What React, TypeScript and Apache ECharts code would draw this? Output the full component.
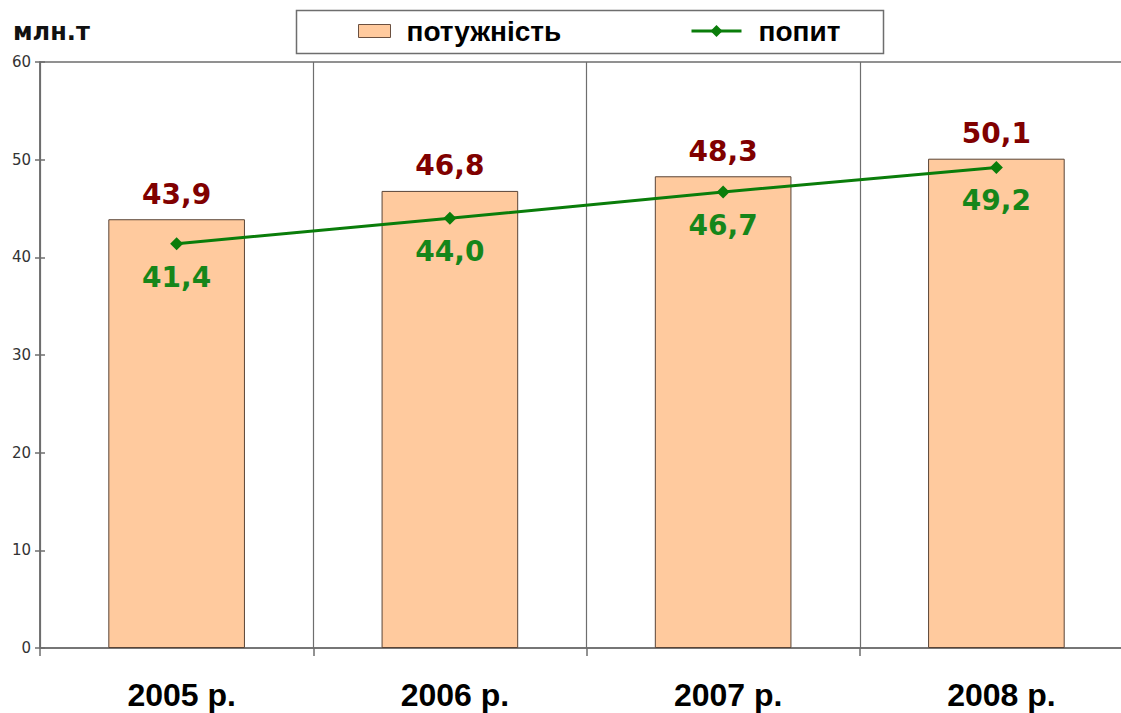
import React, { useEffect, useRef } from "react";
import * as echarts from "echarts";

const categories = ["2005 р.", "2006 р.", "2007 р.", "2008 р."];
const capacity = [43.9, 46.8, 48.3, 50.1];
const demand = [41.4, 44.0, 46.7, 49.2];
const yTicks = [0, 10, 20, 30, 40, 50, 60];

const fmt = (v: number) => v.toFixed(1).replace(".", ",");

export default function App() {
  const ref = useRef<HTMLDivElement>(null);
  useEffect(() => {
    document.body.style.margin = "0";
    const chart = echarts.init(ref.current!, null, { renderer: "svg" });
    chart.setOption({
      animation: false,
      backgroundColor: "#ffffff",
      grid: {
        left: 40,
        top: 62,
        width: 1093,
        height: 586,
        containLabel: false,
        outerBoundsMode: "none",
        show: true,
        borderColor: "#6e6e6e",
        borderWidth: 1.5,
        backgroundColor: "transparent",
      },
      legend: [
        {
          data: [{ name: "потужність", icon: "rect" }],
          left: 358,
          top: 17,
          itemWidth: 32,
          itemHeight: 13,
          padding: 0,
          itemStyle: { borderColor: "#6b5040", borderWidth: 1 },
          textStyle: {
            fontFamily: "Liberation Sans",
            fontWeight: "bold",
            fontSize: 28,
            color: "#000",
            padding: [0, 0, 0, 11],
          },
        },
        {
          data: ["попит"],
          left: 690,
          top: 17,
          itemWidth: 50,
          itemHeight: 15,
          padding: 0,
          lineStyle: { width: 3 },
          textStyle: {
            fontFamily: "Liberation Sans",
            fontWeight: "bold",
            fontSize: 28,
            color: "#000",
            padding: [0, 0, 0, 12],
          },
        },
      ],
      graphic: [
        {
          type: "rect",
          shape: { x: 296.5, y: 10.5, width: 587, height: 43 },
          style: { fill: "none", stroke: "#6e6e6e", lineWidth: 1.5 },
          z: -1,
        },
      ],
      xAxis: {
        type: "category",
        data: categories,
        boundaryGap: true,
        axisLine: { lineStyle: { color: "#6e6e6e", width: 1.5 } },
        axisTick: { show: true, length: 8, inside: false, lineStyle: { color: "#6e6e6e", width: 1.5 } },
        splitLine: { show: true, lineStyle: { color: "#6e6e6e", width: 1.2 } },
        axisLabel: {
          margin: 31,
          fontFamily: "Liberation Sans",
          fontWeight: "bold",
          fontSize: 32,
          color: "#000",
          padding: [0, 0, 0, 10],
        },
      },
      yAxis: [
        {
          type: "value",
          min: yTicks[0],
          max: yTicks[yTicks.length - 1],
          interval: 10,
          name: "млн.т",
          nameLocation: "end",
          nameGap: 18,
          nameTextStyle: {
            fontFamily: "DejaVu Sans",
            fontWeight: "bold",
            fontSize: 24,
            color: "#111",
            align: "left",
            padding: [0, 0, 0, -27],
          },
          axisLine: { show: true, lineStyle: { color: "#6e6e6e", width: 1.5 } },
          axisTick: { show: true, length: 5, lineStyle: { color: "#6e6e6e", width: 1.5 } },
          splitLine: { show: false },
          axisLabel: {
            margin: 9,
            fontFamily: "DejaVu Sans",
            fontSize: 15,
            color: "#333",
          },
        },
        {
          type: "value",
          position: "left",
          min: yTicks[0],
          max: yTicks[yTicks.length - 1],
          interval: 10,
          axisLine: { show: false },
          axisTick: { show: true, inside: true, length: 5, lineStyle: { color: "#6e6e6e", width: 1.5 } },
          splitLine: { show: false },
          axisLabel: { show: false },
        },
      ],
      series: [
        {
          name: "потужність",
          type: "bar",
          data: capacity,
          barWidth: "50%",
          itemStyle: { color: "#FFCA9E", borderColor: "#5a4436", borderWidth: 1 },
          label: {
            show: true,
            position: "top",
            distance: 11,
            formatter: (p: any) => fmt(p.value),
            fontFamily: "DejaVu Sans",
            fontWeight: "bold",
            fontSize: 28,
            color: "#800000",
          },
        },
        {
          name: "попит",
          type: "line",
          data: demand,
          symbol: "diamond",
          symbolSize: 13,
          lineStyle: { color: "#0a7d0a", width: 3 },
          itemStyle: { color: "#0a7d0a" },
          label: {
            show: true,
            position: "bottom",
            distance: 13,
            formatter: (p: any) => fmt(p.value),
            fontFamily: "DejaVu Sans",
            fontWeight: "bold",
            fontSize: 28,
            color: "#16861a",
          },
        },
      ],
    });
    return () => chart.dispose();
  }, []);
  return <div ref={ref} style={{ width: 1121, height: 713 }} />;
}
